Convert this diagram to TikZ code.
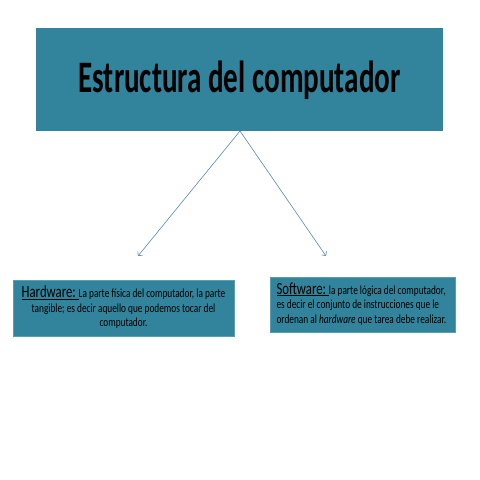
\documentclass[tikz,border=0pt]{standalone}
\usepackage{fontspec}
\setmainfont{Carlito}
\usepackage{graphicx}
\usetikzlibrary{arrows.meta}
\definecolor{teal1}{HTML}{31849B}
\definecolor{arrowc}{HTML}{5B86C0}
\tikzset{
  titlebox/.style={rectangle, fill=teal1, inner sep=0pt},
  infobox/.style={rectangle, fill=teal1, draw=teal1!80!white, line width=0.4pt, inner sep=0pt},
  conn/.style={draw=arrowc, line width=0.6pt, -{Straight Barb[length=3pt,width=6pt]}}
}
\newcommand{\squash}[1]{\scalebox{0.75}[1]{#1}}
\begin{document}
\begin{tikzpicture}[x=1pt,y=-1pt]
\useasboundingbox (0,0) rectangle (480,480);
\fill[white] (0,0) rectangle (480,480);

\node[titlebox, minimum width=407pt, minimum height=103pt] (title) at (239.5,79.5) {};
\node (titletext) at (239.5,80) {\resizebox{322pt}{\height}{\fontsize{45}{54}\selectfont\bfseries Estructura del computador}};

\node[infobox, minimum width=221pt, minimum height=56pt] (hw) at (123.5,308) {};
\node (hwtext) at (123.5,308.5) {\squash{\fontsize{12.4}{14.5}\selectfont\begin{tabular}{@{}c@{}}
\underline{\fontsize{17}{14.5}\selectfont Hardware:\ }La parte física del computador, la parte\\
tangible; es decir aquello que podemos tocar del\\
computador.
\end{tabular}}};

\node[infobox, minimum width=185pt, minimum height=55pt] (sw) at (362.5,304.5) {};
\node[anchor=west] (swtext) at (273,305) {\squash{\fontsize{12.4}{14.5}\selectfont\begin{tabular}{@{}l@{}}
\underline{\fontsize{17}{14.5}\selectfont Software:\ }la parte lógica del computador,\\
es decir el conjunto de instrucciones que le\\
ordenan al \textit{hardware} que tarea debe realizar.
\end{tabular}}};

\coordinate (top) at (240,131);
\coordinate (lend) at (138,256);
\coordinate (rend) at (326,256);
\draw[conn] (top) -- (lend);
\draw[conn] (top) -- (rend);
\end{tikzpicture}
\end{document}
